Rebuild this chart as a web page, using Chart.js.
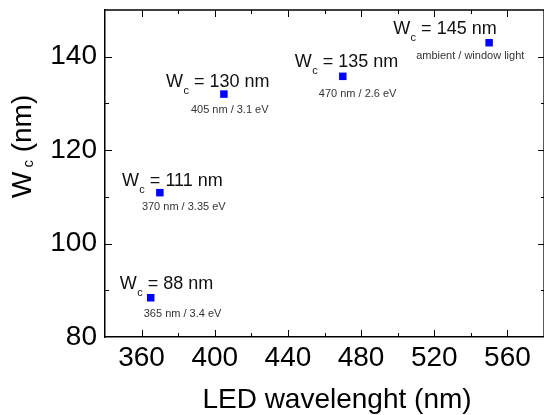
<!DOCTYPE html>
<html>
<head>
<meta charset="utf-8">
<script src="https://cdn.jsdelivr.net/npm/chart.js@4.4.1/dist/chart.umd.min.js"></script>
<style>
  html, body { margin: 0; padding: 0; background: #fff; }
  #wrap { width: 544px; height: 415px; }
</style>
</head>
<body>
<div id="wrap"><canvas id="wcChart"></canvas></div>
<script>
// LED wavelength (nm) vs measured W_c (nm)
const wavelengths = [365, 370, 405, 470, 550];
const wcPoints = [88.4, 110.9, 132, 135.8, 143];
const wcLabels = [88, 111, 130, 135, 145];
const sourceLabels = ['365 nm / 3.4 eV', '370 nm / 3.35 eV', '405 nm / 3.1 eV', '470 nm / 2.6 eV', 'ambient / window light'];

const xTicks = [360, 400, 440, 480, 520, 560];
const yTicks = [80, 100, 120, 140];

// label offsets from each point, px: [W left, W baseline, small left, small baseline]
const labelOffsets = [
  [-31, -9, -7, 19],
  [-38, -7, -18, 17],
  [-58, -7, -33, 19],
  [-48, -9, -24, 20.5],
  [-96, -9, -73, 16.5]
];

const FONT = '"Liberation Sans", Arial, Helvetica, sans-serif';
const ctx = document.getElementById('wcChart').getContext('2d');

// draws "W" + subscript "c" + rest
function drawWc(c, x, y, size, subSize, drop, gap, rest) {
  c.font = size + 'px ' + FONT;
  c.fillText('W', x, y);
  let cx = x + c.measureText('W').width + gap;
  c.font = subSize + 'px ' + FONT;
  c.fillText('c', cx, y + drop);
  cx += c.measureText('c').width;
  c.font = size + 'px ' + FONT;
  c.fillText(rest, cx, y);
}

function noPad(s) {
  s.paddingTop = 0;
  s.paddingBottom = 0;
  s.paddingLeft = 0;
  s.paddingRight = 0;
}

const framePlugin = {
  id: 'frame',
  afterDraw(chart) {
    const c = chart.ctx;
    const a = chart.chartArea;
    const xs = chart.scales.x;
    const ys = chart.scales.y;
    c.save();
    c.strokeStyle = '#000';
    c.lineWidth = 1.3;
    c.beginPath();
    c.moveTo(a.left, a.top);
    c.lineTo(a.right, a.top);
    c.lineTo(a.right, a.bottom);
    c.stroke();

    // inward ticks, major + minor halfway
    c.lineWidth = 1;
    c.beginPath();
    for (let v = 360; v < 580; v += 20) {
      const px = Math.round(xs.getPixelForValue(v)) + 0.5;
      const len = xTicks.includes(v) ? 7 : 4;
      c.moveTo(px, a.bottom); c.lineTo(px, a.bottom - len);
      c.moveTo(px, a.top); c.lineTo(px, a.top + len);
    }
    for (let v = 90; v < 150; v += 10) {
      const py = Math.round(ys.getPixelForValue(v)) + 0.5;
      const len = yTicks.includes(v) ? 7 : 4;
      c.moveTo(a.left, py); c.lineTo(a.left + len, py);
      c.moveTo(a.right, py); c.lineTo(a.right - len + 1, py);
    }
    c.stroke();

    // point annotations
    c.textBaseline = 'alphabetic';
    c.textAlign = 'left';
    const meta = chart.getDatasetMeta(0);
    meta.data.forEach((pt, i) => {
      const o = labelOffsets[i];
      c.fillStyle = '#111';
      drawWc(c, pt.x + o[0], pt.y + o[1], 18, 11, 7, 0.5, ' = ' + wcLabels[i] + ' nm');
      c.fillStyle = '#333';
      c.font = '11px ' + FONT;
      c.fillText(sourceLabels[i], pt.x + o[2], pt.y + o[3]);
    });

    // axis titles
    c.fillStyle = '#000';
    c.font = '28px ' + FONT;
    c.textAlign = 'center';
    c.fillText('LED wavelenght (nm)', 337, 408);
    c.textAlign = 'left';
    c.translate(31, 198);
    c.rotate(-Math.PI / 2);
    drawWc(c, 0, 0, 28, 15, 2, 4, ' (nm)');
    c.restore();
  }
};

new Chart(ctx, {
  type: 'scatter',
  data: {
    datasets: [{
      data: wavelengths.map((w, i) => ({ x: w, y: wcPoints[i] })),
      pointStyle: 'rect',
      pointRadius: 5.3,
      pointBorderWidth: 0,
      backgroundColor: '#0000ff',
      borderColor: '#0000ff'
    }]
  },
  options: {
    responsive: true,
    maintainAspectRatio: false,
    animation: false,
    layout: { autoPadding: false, padding: { top: 10, right: -1, left: 0, bottom: 0 } },
    plugins: {
      legend: { display: false },
      tooltip: { enabled: false }
    },
    scales: {
      x: {
        type: 'linear',
        min: 340,
        max: 580,
        afterBuildTicks: (s) => { s.ticks = xTicks.map(v => ({ value: v })); },
        afterFit: (s) => { s.height = 78; noPad(s); },
        grid: { display: false, drawTicks: false },
        border: { display: true, color: '#000', width: 1.5 },
        ticks: { color: '#000', padding: 4, font: { size: 28, family: FONT } }
      },
      y: {
        min: 80,
        max: 150,
        afterBuildTicks: (s) => { s.ticks = yTicks.map(v => ({ value: v })); },
        afterFit: (s) => { s.width = 105; noPad(s); },
        grid: { display: false, drawTicks: false },
        border: { display: true, color: '#000', width: 1.5 },
        ticks: { color: '#000', padding: 8, font: { size: 28, family: FONT } }
      }
    }
  },
  plugins: [framePlugin]
});
</script>
</body>
</html>
